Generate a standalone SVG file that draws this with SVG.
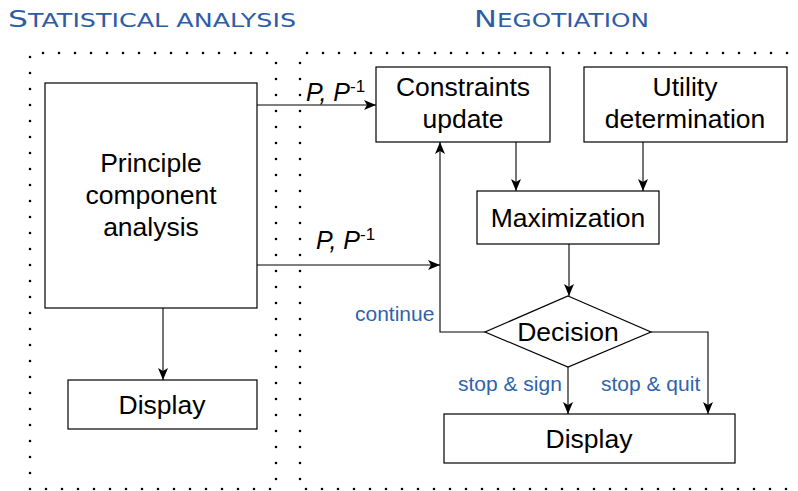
<svg xmlns="http://www.w3.org/2000/svg" width="798" height="491" viewBox="0 0 798 491">
  <style>
    .box { fill: #ffffff; stroke: #000000; stroke-width: 1.2; }
    .lbl { font-family: "Liberation Sans", Arial, sans-serif; font-size: 26.5px; fill: #000000; text-anchor: middle; }
    .cond { font-family: "Liberation Sans", Arial, sans-serif; font-size: 21px; fill: #2f63ad; }
    .pp { font-family: "Liberation Sans", Arial, sans-serif; font-size: 25px; font-style: italic; fill: #000000; }
    .sup { font-size: 17px; font-style: normal; }
    .title { font-family: "DejaVu Sans", "Liberation Sans", sans-serif; fill: #2e5da8; }
    .cap { font-size: 23.5px; }
    .sc { font-size: 19px; }
    .frame { fill: none; stroke: #000000; stroke-width: 2.6; stroke-linecap: round; stroke-dasharray: 0 16; }
    .conn { fill: none; stroke: #000000; stroke-width: 1.1; }
  </style>
  <defs>
    <marker id="arrow" viewBox="0 0 12 10" refX="12" refY="5" markerWidth="12" markerHeight="10" markerUnits="userSpaceOnUse" orient="auto">
      <path d="M0,0 L12,5 L0,10 L3,5 Z" fill="#000000"/>
    </marker>
  </defs>

  <rect width="798" height="491" fill="#ffffff"/>

  <!-- section headings, set in small capitals -->
  <text class="title" x="8" y="27" textLength="288" lengthAdjust="spacingAndGlyphs"><tspan class="cap">S</tspan><tspan class="sc">TATISTICAL ANALYSIS</tspan></text>
  <text class="title" x="474" y="27" textLength="175" lengthAdjust="spacingAndGlyphs"><tspan class="cap">N</tspan><tspan class="sc">EGOTIATION</tspan></text>

  <!-- dotted section frames -->
  <g id="frames">
    <path class="frame" d="M30,57 L30,489 L276,489 M43,53 L270,53 M276,63 L276,489"/>
    <path class="frame" d="M300,63 L300,489 L798,489 M307,53 L798,53"/>
  </g>

  <!-- connectors -->
  <g id="connectors">
    <path class="conn" d="M257,105 L376,105" marker-end="url(#arrow)"/>
    <path class="conn" d="M257,265 L440,265" marker-end="url(#arrow)"/>
    <path class="conn" d="M163,308 L163,380" marker-end="url(#arrow)"/>
    <path class="conn" d="M516,142 L516,191" marker-end="url(#arrow)"/>
    <path class="conn" d="M643,142 L643,191" marker-end="url(#arrow)"/>
    <path class="conn" d="M569,244 L569,296" marker-end="url(#arrow)"/>
    <path class="conn" d="M485,332 L440,332 L440,142" marker-end="url(#arrow)"/>
    <path class="conn" d="M568,367 L568,414" marker-end="url(#arrow)"/>
    <path class="conn" d="M651,332 L708,332 L708,414" marker-end="url(#arrow)"/>

    <text class="pp" x="306" y="101">P, P<tspan class="sup" dy="-9">-1</tspan></text>
    <text class="pp" x="316" y="249">P, P<tspan class="sup" dy="-9">-1</tspan></text>
    <text class="cond" x="355" y="321">continue</text>
    <text class="cond" x="458" y="391">stop &amp; sign</text>
    <text class="cond" x="601" y="391">stop &amp; quit</text>
  </g>

  <!-- nodes -->
  <g id="pca">
    <rect class="box" x="45" y="83" width="212" height="225"/>
    <text class="lbl" x="151" y="172">Principle</text>
    <text class="lbl" x="151" y="204">component</text>
    <text class="lbl" x="151" y="236">analysis</text>
  </g>
  <g id="display-left">
    <rect class="box" x="68" y="380" width="189" height="49"/>
    <text class="lbl" x="162" y="414">Display</text>
  </g>
  <g id="constraints">
    <rect class="box" x="376" y="67" width="174" height="75"/>
    <text class="lbl" x="463" y="96">Constraints</text>
    <text class="lbl" x="463" y="128">update</text>
  </g>
  <g id="utility">
    <rect class="box" x="584" y="67" width="203" height="75"/>
    <text class="lbl" x="685" y="96">Utility</text>
    <text class="lbl" x="685" y="128">determination</text>
  </g>
  <g id="maximization">
    <rect class="box" x="477" y="191" width="182" height="53"/>
    <text class="lbl" x="568" y="227">Maximization</text>
  </g>
  <g id="decision">
    <path class="box" d="M568,296 L651,332 L568,367 L485,332 Z"/>
    <text class="lbl" x="568" y="341">Decision</text>
  </g>
  <g id="display-right">
    <rect class="box" x="444" y="414" width="291" height="49"/>
    <text class="lbl" x="589" y="448">Display</text>
  </g>
</svg>
